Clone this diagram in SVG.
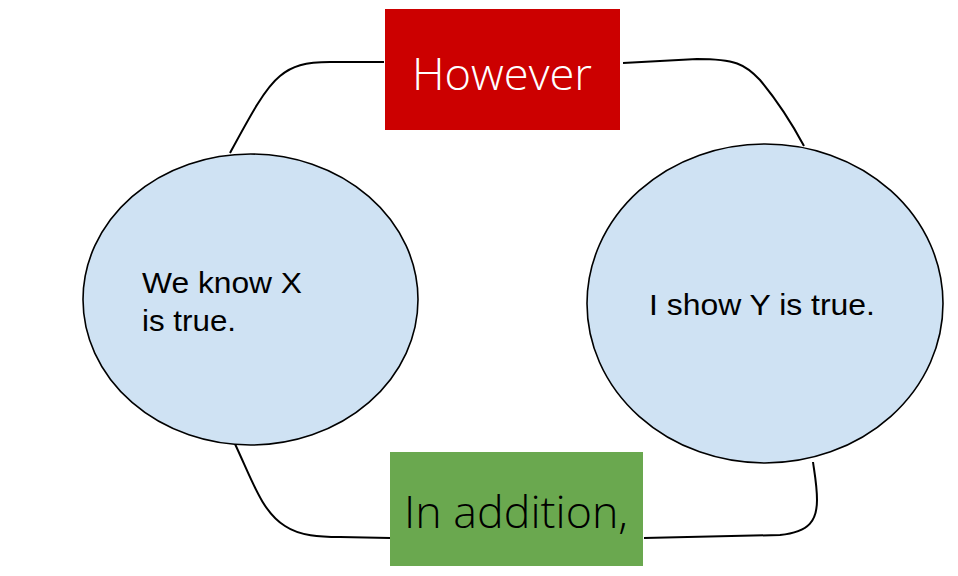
<svg xmlns="http://www.w3.org/2000/svg" width="958" height="576" viewBox="0 0 958 576">
<style>
.bg{fill:#ffffff}
.ell{fill:#cfe2f3;stroke:#000000;stroke-width:1.6}
.conn{fill:none;stroke:#000000;stroke-width:2}
.body{font-family:"Liberation Sans",Arial,sans-serif;font-size:30px;fill:#000000}
.hand{font-family:"Open Sans","DejaVu Sans",sans-serif;font-weight:300;font-size:44px;text-anchor:middle}
</style>
<rect class="bg" x="0" y="0" width="958" height="576"/>
<g id="connectors">
<path class="conn" d="M230,153 C250,116 265,88 280,76 C292,66 305,62 330,62 L384,62"/>
<path class="conn" d="M623,63 L697,59 C735,59 745,64 760,80 C775,98 790,120 804,146"/>
<path class="conn" d="M235,444 C252,480 262,512 285,526 C300,536 320,537 340,537 L390,538"/>
<path class="conn" d="M644,538 L780,535 C810,532 817,520 817,500 C817,485 814,470 813,462"/>
</g>
<g id="node-however">
<rect x="385" y="9" width="235" height="121" fill="#cc0000"/>
<text class="hand" x="502" y="90" fill="#ffffff" textLength="180" lengthAdjust="spacingAndGlyphs">However</text>
</g>
<g id="node-addition">
<rect x="390" y="452" width="253" height="114" fill="#6aa84f"/>
<text class="hand" x="516" y="528" fill="#000000" textLength="224" lengthAdjust="spacingAndGlyphs">In addition,</text>
</g>
<g id="node-x">
<ellipse class="ell" cx="250.5" cy="299.5" rx="167.5" ry="145.5"/>
<text class="body" x="142" y="293" textLength="160" lengthAdjust="spacingAndGlyphs">We know X</text>
<text class="body" x="142" y="331" textLength="94" lengthAdjust="spacingAndGlyphs">is true.</text>
</g>
<g id="node-y">
<ellipse class="ell" cx="765" cy="303.5" rx="178" ry="159.5"/>
<text class="body" x="649" y="315" textLength="226" lengthAdjust="spacingAndGlyphs">I show Y is true.</text>
</g>
</svg>
